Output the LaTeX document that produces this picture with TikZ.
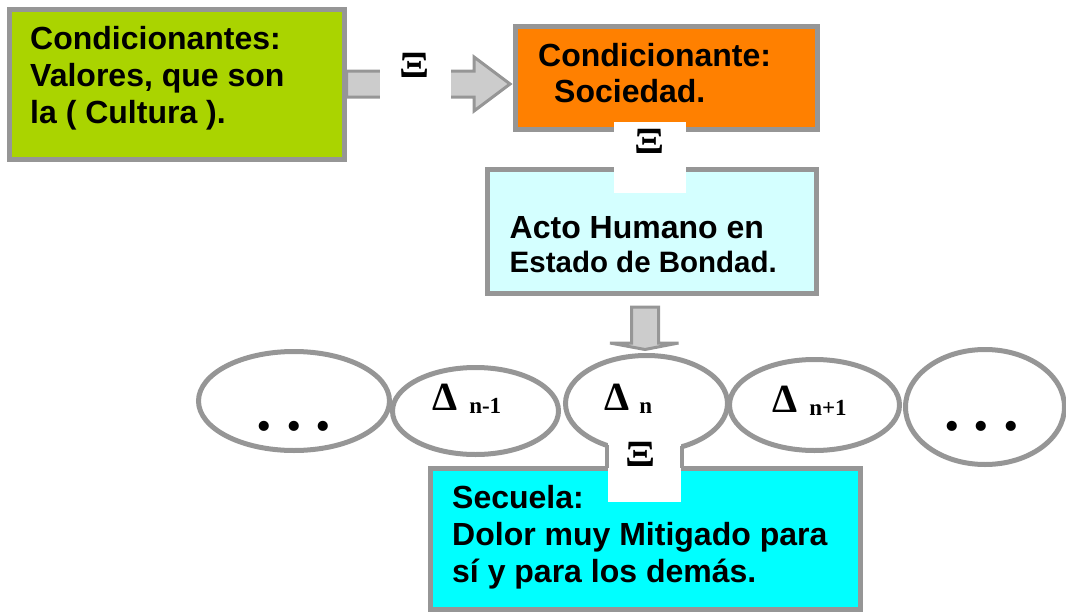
\documentclass[tikz,border=0pt]{standalone}
\usepackage{fontspec}
\setmainfont{Liberation Sans}
\newfontfamily\serifb{Liberation Serif}
\usepackage{xcolor}
\usetikzlibrary{shapes.geometric, calc, positioning, backgrounds}

\definecolor{verdelima}{RGB}{170,212,0}
\definecolor{naranja}{RGB}{255,128,0}
\definecolor{celeste}{RGB}{212,255,255}
\definecolor{cian}{RGB}{0,255,255}
\definecolor{bordegris}{RGB}{150,150,150}
\definecolor{flechagris}{RGB}{204,204,204}
\newcommand{\subi}[1]{\raisebox{-3pt}{\fontsize{23}{23}\selectfont #1}}
\newcommand{\xiletra}{\scalebox{1.2}[1]{Ξ}}

\begin{document}
\begin{tikzpicture}[x=1pt, y=-1pt, every node/.style={inner sep=0pt}]
\tikzset{caja/.style={rectangle, draw=bordegris, line width=5pt},
  elip/.style={ellipse, draw=bordegris, line width=5pt},
  txt/.style={anchor=base west, align=left, font=\bfseries\fontsize{32}{37}\selectfont},
  xi/.style={font=\serifb\bfseries\fontsize{37}{37}\selectfont},
  dlt/.style={anchor=base west, font=\serifb\bfseries\fontsize{40}{40}\selectfont},
  puntos/.style={anchor=base, font=\serifb\bfseries\fontsize{62}{62}\selectfont},
  blanco/.style={rectangle, fill=white},
  bloque/.style={draw=bordegris, fill=flechagris, line width=3pt}}
\useasboundingbox (0,0) rectangle (1066,613);
\node[caja, fill=verdelima, minimum width=335, minimum height=150] (g) at (176.5,84) {};
\node[caja, fill=naranja, minimum width=302, minimum height=103] (o) at (666.5,77.5) {};
\node[caja, fill=celeste, minimum width=329, minimum height=124] (h) at (651.5,231) {};
\node[caja, fill=cian, minimum width=430, minimum height=141] (s) at (645,538.5) {};
\node[txt] (gt) at (30,123) {Condicionantes:\\Valores, que son\\la ( Cultura ).};
\node[txt, font=\bfseries\fontsize{32}{35.5}\selectfont] (ot) at (538,102) {Condicionante:\\\hspace*{16pt}Sociedad.};
\node[txt, font=\bfseries\fontsize{32}{34}\selectfont] (ht) at (509.5,272) {Acto Humano en\\{\fontsize{29.5}{34}\selectfont Estado de Bondad.}};
\node[txt] (st) at (452,582) {Secuela:\\Dolor muy Mitigado para\\sí y para los demás.};
\node[elip, minimum width=191, minimum height=99] (e1) at (294,401) {};
\node[elip, minimum width=166, minimum height=87] (e2) at (475.5,411) {};
\node[elip, minimum width=162, minimum height=96] (e3) at (646.5,403.5) {};
\node[elip, minimum width=170, minimum height=91] (e4) at (814.5,405) {};
\node[elip, minimum width=159, minimum height=115] (e5) at (985,407) {};
\node[puntos] (p1) at (294,430) {.\hspace{14pt}.\hspace{14pt}.};
\node[puntos] (p5) at (981.5,430) {.\hspace{14pt}.\hspace{14pt}.};
\node[dlt] (d2) at (432,410) {Δ\hspace{12pt}\subi{n-1}};
\node[dlt] (d3) at (604,410) {Δ\hspace{10pt}\subi{n}};
\node[dlt] (d4) at (772,412) {Δ\hspace{12pt}\subi{n+1}};
\begin{scope}[on background layer]
\draw[bloque] ($(g.east)+(0,-13)$) -- ++(127.5,0) -- ++(0,-14) -- ($(o.west|-g.east)+(-3,0)$) -- ($(g.east)+(127.5,27)$) -- ++(0,-14) -- ($(g.east)+(0,13)$) -- cycle;
\draw[bloque] ($(h.south)+(-20,11.5)$) -- ++(0,36) -- ++(-21.5,0) -- ($(e3.north)+(-1.5,-3.5)$) -- ($(h.south)+(27,47.5)$) -- ++(-20,0) -- ++(0,-36) -- cycle;
\end{scope}
\node[blanco, minimum width=71, minimum height=70] (wa) at (415.5,84) {};
\node[xi] (xa) at (414.5,65) {\xiletra};
\node[blanco, minimum width=72, minimum height=71] (wb) at (650,157.5) {};
\node[xi] (xb) at (649.5,141) {\xiletra};
\node[blanco, minimum width=73, minimum height=62] (wc) at (644.5,471) {};
\node[xi] (xc) at (641,454) {\xiletra};
\draw[bordegris, line width=4pt] ($(wc.north west)+(-1,5)$) -- ($(wc.north west)+(-1,28)$);
\draw[bordegris, line width=4pt] ($(wc.north east)+(1,6.5)$) -- ($(wc.north east)+(1,28)$);
\end{tikzpicture}
\end{document}
